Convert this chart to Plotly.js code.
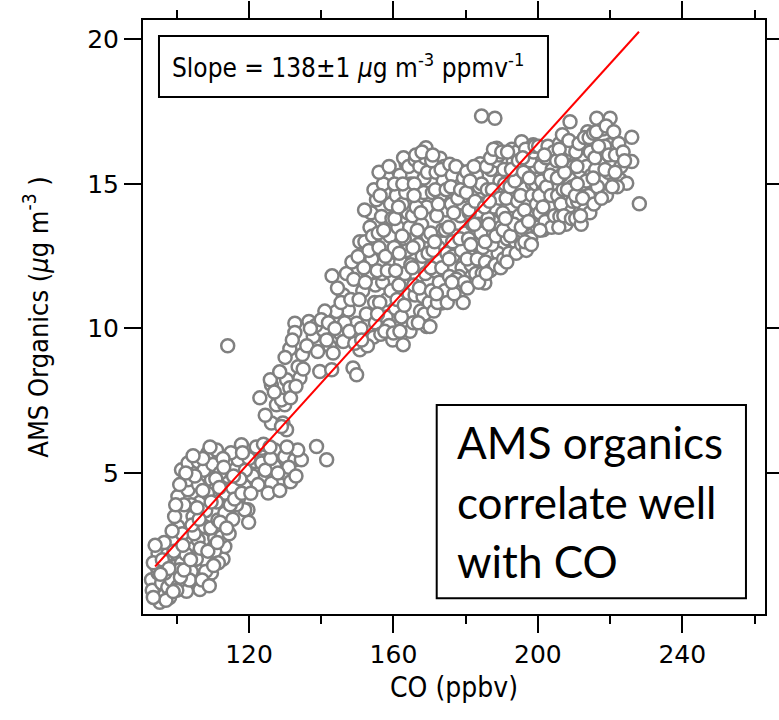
<!DOCTYPE html>
<html><head><meta charset="utf-8">
<script src="https://cdn.plot.ly/plotly-3.0.1.min.js"></script>
<style>html,body{margin:0;padding:0;background:#fff}</style>
</head><body><div id="chart" style="width:779px;height:720px"></div>
<script>
// [CO (ppbv), AMS Organics (ug m-3)]
const lowCluster = [
[95.3,0.53],[94.8,0.85],[96.7,0.79],[93.9,1.08],[93.0,1.31],[94.8,1.54],[94.4,1.77],[94.8,2.23],[93.5,1.9],[93.2,0.95],
[95.8,1.2],[97.5,1.05],[98.5,1.31],[100.3,1.08],[102.2,1.2],[99.4,1.77],[101.3,1.89],[96.7,1.54],[100.8,1.66],[105.0,2.0],
[107.7,2.0],[105.9,1.31],[106.4,0.97],[109.6,1.54],[102.7,0.91],[103.1,2.46],[107.3,2.69],[110.5,2.75],[112.8,2.03],[99.0,2.69],
[100.3,3.15],[99.4,3.5],[103.1,2.8],[105.9,2.69],[107.7,3.15],[109.4,3.1],[111.4,3.38],[113.3,3.62],[117.0,4.08],[118.8,4.54],
[119.7,3.73],[100.3,4.19],[103.1,4.42],[103.1,4.77],[101.3,5.11],[103.1,5.35],[105.9,5.4],[108.6,5.69],[111.0,5.8],[109.6,4.77],
[110.5,4.42],[112.4,4.08],[114.2,5.35],[116.1,5.11],[114.2,4.88],[117.0,5.46],[117.9,5.98],[121.6,5.4],[123.5,5.86],[127.1,5.8],
[129.9,5.57],[132.7,5.46],[134.5,5.46],[127.1,5.23],[129.9,5.0],[126.2,4.65],[125.3,4.31],[123.5,5.35],[118.8,3.73],[119.9,3.3],
[113.3,2.46],[112.4,2.8],[105.4,2.03],[138.7,5.92],[141.5,5.46],[104.5,3.5],[106.5,4.0],[108.0,3.7],[104.0,3.9],[106.0,4.6],
[107.5,5.1],[110.0,5.3],[112.0,5.0],[113.5,4.3],[115.5,4.5],[116.5,3.9],[111.0,4.0],[108.5,4.3],[105.0,4.9],[102.0,3.9],
[101.5,2.9],[102.5,2.2],[104.0,1.6],[103.5,1.3],[108.0,1.6],[110.5,2.3],[111.5,1.9],[114.5,2.9],[115.5,3.4],[106.5,2.4],
[97.5,2.2],[98.0,0.7],[96.0,2.0],[121.0,4.9],[120.0,5.5],[122.5,4.6],[124.5,5.1],[119.0,5.1],[128.5,4.4],[131.0,5.2],
[133.5,5.8],[131.5,4.7],[133.0,4.9],
[96.5,2.6],[97.8,1.7],[99.2,2.3],[100.0,0.95],[101.0,1.4],[102.0,1.65],[101.7,2.5],[103.8,2.0],[104.8,2.9],[104.2,3.2],
[106.2,3.4],[107.0,1.3],[108.6,2.3],[109.0,1.1],[110.2,1.8],[111.2,2.6],[112.0,3.3],[113.8,3.1],[114.8,3.9],[116.0,4.1],
[117.5,4.8],[118.0,4.3],[115.0,5.7],[112.8,5.5],[110.8,4.8],[109.2,5.9],[107.2,5.5],[104.5,5.6],[102.5,5.0],[100.8,4.6],
[99.7,3.9],[98.7,3.0],[105.6,3.8],[107.2,4.4],[109.5,4.0],[111.8,4.5],[113.0,5.2],[115.7,4.9],[118.2,5.7],[120.5,4.3],
[122.0,5.9],[124.0,6.0],[126.0,5.5],[128.0,5.0],[125.8,5.9],[130.5,5.9],[95.5,1.5],[97.0,0.6],[99.0,0.9],[94.0,2.5],
[93.5,0.7]
];
const neckCluster = [
[114.1,9.4],[143.0,11.82],[146.1,11.16],[132.7,10.18],[136.6,10.24],[132.7,9.86],[131.3,9.3],[123.0,7.6],[126.2,8.05],[125.9,8.23],
[130.4,8.23],[133.6,8.68],[134.1,8.29],[131.3,7.95],[127.6,7.36],[129.9,7.36],[126.2,6.73],[129.4,6.73],[130.4,6.5],[139.6,8.51],
[142.9,8.57],[148.8,8.63],[149.8,8.4],[137.8,9.72],[140.5,9.95],[142.4,9.38],[145.2,9.84],[146.1,9.55],[143.3,9.15],[147.5,10.64],
[144.2,10.59],[149.8,10.18],[150.7,9.26],[149.3,9.49],[129.0,7.53],[129.0,6.61],[131.5,7.6],[134.8,9.1],[138.5,10.1],[141.0,10.6],
[144.5,11.4],[147.0,11.9],[148.5,12.3],[146.5,10.2],[141.5,9.6],
[124.5,7.0],[127.0,7.8],[128.5,8.5],[130.0,9.0],[132.0,9.6],[133.0,8.0],[135.0,8.6],[136.0,9.4],[137.0,10.0],[139.0,9.2],
[140.0,10.3],[142.0,10.2],[143.8,10.0],[145.5,10.9],[147.8,9.9],[148.2,11.0],[149.0,11.7]
];
const mainCluster = [
[150.2,12.49],[150.7,13.0],[152.1,13.0],[155.3,14.45],[151.5,11.3],[152.5,10.5],[153.0,11.9],[151.0,10.0],[154.0,12.4],[153.5,13.5],
[154.5,9.7],[152.8,9.4],[154.8,10.9],[151.8,12.1],[155.0,11.5],[153.8,14.0],
[150.5,11.0],[151.2,9.6],[152.2,11.6],[153.2,12.7],[154.2,13.2],[155.0,10.2],[152.0,14.1],[154.6,14.8],
[156.7,13.87],[156.0,12.8],[157.0,11.6],[158.0,10.4],[156.5,9.8],[157.5,14.7],[158.5,15.2],[159.0,13.2],[159.5,12.2],[158.2,11.0],
[156.2,10.9],[159.8,9.6],[157.8,12.5],[155.8,13.3],[159.2,14.3],[157.2,15.0],[158.8,10.1],[156.8,11.9],
[155.5,12.0],[156.3,14.6],[157.3,13.4],[158.3,12.0],[159.3,11.3],[156.0,15.4],[158.8,15.6],[157.6,9.9],[155.6,10.5],[159.6,13.8],
[160.0,9.84],[162.7,9.44],[164.6,9.9],[160.5,10.7],[161.5,11.5],[162.0,12.3],[163.0,13.1],[164.0,14.0],[160.8,14.6],[161.8,15.3],
[163.5,15.7],[164.8,15.0],[162.5,14.3],[161.2,13.5],[163.8,12.7],[164.3,11.2],[160.2,12.8],[162.2,10.4],[163.2,11.9],[161.0,11.0],
[164.5,13.5],[160.3,15.0],[162.8,15.9],
[160.6,12.0],[161.6,12.6],[162.4,13.2],[163.4,14.7],[164.2,15.6],[160.4,13.8],[161.4,14.2],[163.0,10.8],[164.8,12.2],[161.8,9.9],
[162.6,15.0],
[166.0,15.83],[169.0,16.25],[165.5,10.2],[166.0,11.16],[169.2,10.07],[167.5,10.6],[166.5,11.8],[168.0,12.5],[169.5,13.2],[165.3,13.9],
[167.0,14.5],[168.5,15.2],[165.8,15.0],[167.8,13.6],[169.8,11.6],[166.8,12.9],[168.2,11.1],[165.2,12.1],[169.2,14.2],[167.3,15.6],
[168.8,15.9],[166.3,14.2],[169.6,12.6],[165.6,11.5],[168.6,10.5],
[165.4,12.8],[166.6,13.4],[167.6,14.0],[168.4,14.7],[169.4,15.4],[166.2,16.0],[167.9,16.1],[165.7,14.6],[167.2,11.4],[168.9,11.9],
[169.9,10.9],[166.9,10.2],
[170.1,10.07],[173.3,10.88],[172.9,15.89],[170.5,11.3],[171.5,12.0],[172.5,12.8],[173.5,13.4],[174.5,14.1],[170.8,14.7],[171.8,15.4],
[170.3,13.3],[172.0,13.9],[173.8,15.1],[174.8,12.6],[171.2,10.6],[172.7,11.6],[174.2,11.3],[170.6,15.8],[173.0,14.6],[171.0,12.7],
[174.0,15.6],
[170.4,12.1],[171.4,13.0],[172.4,14.3],[173.4,12.1],[174.4,13.4],[171.6,14.8],[173.2,15.5],[174.6,14.8],[170.9,16.0],[172.2,10.9],
[174.9,10.9],[171.9,11.2],
[175.6,15.68],[179.3,10.9],[175.5,11.8],[176.5,12.5],[177.5,13.2],[178.5,13.9],[179.5,14.6],[176.0,14.3],[177.0,15.1],[178.0,15.5],
[179.0,12.1],[176.8,11.2],[178.2,11.8],[175.3,13.5],[177.8,14.5],[179.8,13.3],[176.3,15.3],[178.8,12.7],
[175.4,12.4],[176.4,13.0],[177.4,11.7],[178.4,13.1],[179.4,15.2],[176.7,14.0],[177.3,15.6],[175.9,14.9],[178.6,14.8],[179.6,11.6],
[176.2,11.6],
[180.3,15.42],[184.4,17.35],[185.3,11.57],[180.5,11.4],[181.5,12.2],[182.5,12.9],[183.5,13.6],[184.5,14.3],[181.0,14.0],[182.0,14.8],
[183.0,15.3],[184.0,15.7],[180.8,13.1],[182.8,11.9],[184.8,12.8],[181.8,13.6],[183.8,14.9],[180.2,14.7],[182.3,15.6],[184.2,13.3],
[180.4,12.4],[181.4,12.9],[182.4,13.6],[183.4,14.3],[184.4,15.0],[181.2,15.1],[183.2,12.4],[184.6,11.9],[180.9,14.1],[182.6,14.4],
[183.6,11.6],
[188.1,17.27],[188.6,16.23],[185.5,12.3],[186.5,13.0],[187.5,13.7],[188.5,14.4],[189.5,15.1],[186.0,14.8],[187.0,15.5],[188.0,15.9],
[189.0,12.6],[186.8,12.0],[185.8,15.6],[187.8,14.2],[189.8,13.5],[186.2,13.8],[188.8,15.8],[185.2,14.2],[189.3,16.0],[187.3,12.9],
[185.4,13.0],[186.4,13.6],[187.4,14.8],[188.4,13.2],[189.4,14.5],[186.9,15.9],[188.2,12.2],[185.7,11.9],[189.7,12.1],[187.7,16.2],
[186.6,14.4],
[190.5,12.4],[191.5,13.1],[192.5,13.8],[193.5,14.5],[194.5,15.2],[190.8,15.0],[191.8,15.7],[192.8,16.2],[193.8,13.0],[194.8,13.9],
[190.3,14.0],[192.0,12.6],[193.2,15.8],[194.2,16.1],[191.2,14.5],[190.0,16.1],[192.3,14.9],[194.0,12.6],
[190.4,13.4],[191.4,12.3],[192.4,13.2],[193.4,13.6],[194.4,14.4],[191.6,16.1],[193.6,15.1],[190.6,15.5],[192.7,15.5],[194.6,15.8],
[191.0,13.8],
[195.5,16.46],[198.7,16.35],[195.5,12.9],[196.5,13.6],[197.5,14.3],[198.5,15.0],[199.5,15.6],[196.0,15.4],[197.0,16.0],[198.0,13.1],
[199.0,14.1],[196.8,12.7],[195.2,14.6],[199.8,13.5],[197.8,15.8],[196.3,14.1],[198.8,16.1],
[195.4,13.5],[196.4,13.0],[197.4,13.7],[198.4,14.6],[199.4,15.0],[196.6,16.2],[197.6,15.2],[199.2,16.3],[195.8,15.9],[198.2,12.9],
[199.6,14.3],
[201.5,13.41],[200.5,14.0],[201.5,14.8],[202.5,15.4],[203.5,16.0],[204.5,14.5],[200.8,15.6],[202.0,13.7],[203.0,14.2],[204.0,15.5],
[200.2,16.3],[202.8,16.3],[203.8,13.5],[201.0,15.1],[204.8,15.0],
[200.4,14.6],[201.4,14.2],[202.4,14.9],[203.4,15.3],[204.4,16.1],[200.6,13.4],[202.2,15.9],[203.6,14.6],[204.6,13.9],[201.8,16.0],
[206.1,13.87],[208.4,15.54],[208.9,17.15],[205.5,14.6],[206.5,15.3],[207.5,16.0],[208.5,14.2],[209.5,14.9],[206.0,16.4],[207.0,14.8],
[209.0,16.2],[205.2,15.8],[207.8,13.6],[209.8,15.6],[206.8,16.7],[205.8,13.5],
[205.4,15.2],[206.4,14.3],[207.4,15.4],[208.6,16.5],[209.6,14.4],[205.9,16.2],[207.2,13.9],[208.2,14.8],[209.3,13.8],[206.6,15.8],
[211.7,14.97],[211.7,15.42],[212.6,16.35],[210.5,13.8],[211.0,14.4],[212.5,15.0],[213.5,15.6],[214.5,16.1],[210.5,16.1],[213.0,14.1],
[214.0,14.6],[212.0,13.6],[210.8,15.6],[214.8,15.3],[213.8,16.8],
[210.4,14.6],[211.4,16.4],[212.4,14.5],[213.4,15.1],[214.4,14.0],[210.9,15.0],[212.9,16.6],[214.2,16.6],[211.8,13.9],
[215.4,16.75],[216.3,17.27],[217.7,15.08],[220.0,17.27],[220.0,16.35],[220.0,15.72],[215.5,14.3],[216.5,14.9],[217.0,15.7],[218.5,16.3],
[219.0,14.6],[216.0,15.5],[218.0,16.9],[215.8,15.9],[219.5,15.4],
[215.3,15.2],[216.8,16.3],[217.6,14.5],[218.6,15.5],[219.6,16.0],[216.2,16.8],[218.9,17.0],
[222.8,15.14],[224.6,15.02],[226.0,16.61],[226.0,15.77],[228.1,14.31],[221.5,16.0],[222.0,14.9],[223.0,15.6],[221.0,16.8],
[221.4,15.4],[222.4,16.4],[223.6,16.1],[220.6,14.9],[224.0,15.8]
];
const fitCO = [94, 228];
const fitOrg = [1.77, 20.26];
const xTicks = [120, 160, 200, 240];
const xMinorTicks = [100, 140, 180, 220, 260];
const yTicks = [5, 10, 15, 20];

const allPts = lowCluster.concat(neckCluster, mainCluster);
const narrow = '"Liberation Sans Narrow", "DejaVu Sans Condensed", "Roboto Condensed", Roboto, sans-serif';

const traces = [
  {x: allPts.map(p => p[0]), y: allPts.map(p => p[1]), type: 'scatter', mode: 'markers',
   marker: {symbol: 'circle', size: 13, color: '#ffffff', line: {color: '#808080', width: 2.5}},
   hoverinfo: 'skip', showlegend: false},
  {x: fitCO, y: fitOrg, type: 'scatter', mode: 'lines',
   line: {color: '#ff0000', width: 2}, showlegend: false, hoverinfo: 'skip'}
];

const axisCommon = {
  ticks: 'outside', ticklen: 17, tickwidth: 2, tickcolor: '#000',
  showline: true, linewidth: 2, linecolor: '#000', mirror: 'allticks',
  showgrid: false, zeroline: false,
  tickfont: {family: '"DejaVu Sans", Verdana, sans-serif', size: 25, color: '#000'}
};

const layout = {
  width: 779, height: 720,
  margin: {l: 143, r: 14, t: 20, b: 106},
  paper_bgcolor: '#fff', plot_bgcolor: '#fff',
  showlegend: false,
  xaxis: Object.assign({}, axisCommon, {
    range: [90.64, 262.9], tickmode: 'array', tickvals: xTicks,
    minor: {tickmode: 'array', tickvals: xMinorTicks, ticks: 'outside', ticklen: 8, tickwidth: 2, tickcolor: '#000', showgrid: false},
    title: {text: 'CO (ppbv)', font: {family: narrow, size: 28, color: '#000'}, standoff: 9}
  }),
  yaxis: Object.assign({}, axisCommon, {
    range: [0.126, 20.667], tickmode: 'array', tickvals: yTicks,
    title: {text: 'AMS Organics (<i>µ</i>g m<sup>-3</sup> )', font: {family: narrow, size: 27, color: '#000'}, standoff: 31}
  }),
  shapes: [
    {type: 'rect', xref: 'paper', yref: 'paper', x0: 0.0257, x1: 0.6511, y0: 0.8704, y1: 0.9731,
     line: {color: '#000', width: 2}, fillcolor: '#fff', layer: 'above'},
    {type: 'rect', xref: 'paper', yref: 'paper', x0: 0.4722, x1: 0.9694, y0: 0.0265, y1: 0.3519,
     line: {color: '#000', width: 2}, fillcolor: '#fff', layer: 'above'}
  ],
  annotations: [
    {xref: 'paper', yref: 'paper', x: 0.0434, y: 0.9226, xanchor: 'left', yanchor: 'middle', showarrow: false,
     text: 'Slope = 138±1 <i>µ</i>g m<sup>-3</sup> ppmv<sup>-1</sup>', font: {family: narrow, size: 26, color: '#000'}},
    {xref: 'paper', yref: 'paper', x: 0.5016, y: (614 - 442) / 594, xanchor: 'left', yanchor: 'middle', showarrow: false,
     text: 'AMS organics', font: {family: 'Lato, "Open Sans", sans-serif', size: 44, color: '#000'}},
    {xref: 'paper', yref: 'paper', x: 0.5016, y: (614 - 502) / 594, xanchor: 'left', yanchor: 'middle', showarrow: false,
     text: 'correlate well', font: {family: 'Lato, "Open Sans", sans-serif', size: 44, color: '#000'}},
    {xref: 'paper', yref: 'paper', x: 0.5016, y: (614 - 561) / 594, xanchor: 'left', yanchor: 'middle', showarrow: false,
     text: 'with CO', font: {family: 'Lato, "Open Sans", sans-serif', size: 44, color: '#000'}}
  ]
};

Plotly.newPlot('chart', traces, layout, {displayModeBar: false, staticPlot: true});
</script>
</body></html>
